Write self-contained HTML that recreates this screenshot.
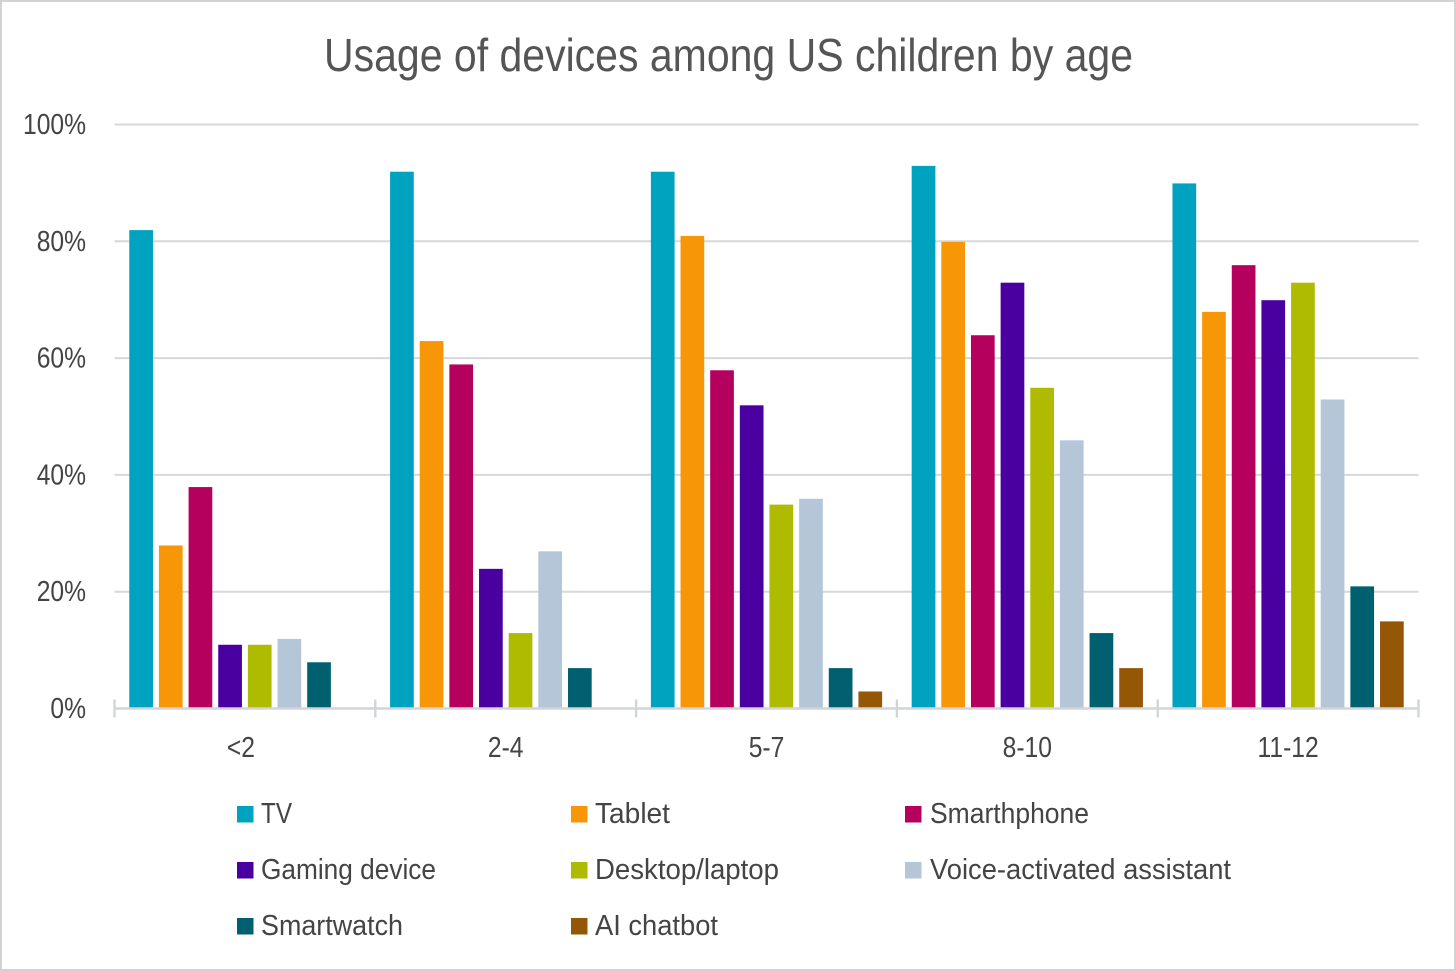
<!DOCTYPE html>
<html lang="en">
<head>
<meta charset="utf-8">
<title>Usage of devices among US children by age</title>
<style>
html,body{margin:0;padding:0;background:#fff;}
svg{display:block;}
text{font-family:"Liberation Sans Narrow","Liberation Sans",sans-serif;}
.title{font-size:46px;fill:#555;}
.label{font-size:29px;fill:#444;}
.grid{stroke:#d6d9dc;stroke-width:2;}
.axis{stroke:#d2d5d8;stroke-width:2.4;}
.s0{fill:#00a3bf;}.s1{fill:#f79707;}.s2{fill:#b5005e;}.s3{fill:#4a00a0;}
.s4{fill:#aebb00;}.s5{fill:#b4c6d8;}.s6{fill:#00606f;}.s7{fill:#935705;}
</style>
</head>
<body>
<svg id="chart" xmlns="http://www.w3.org/2000/svg" width="1456" height="971" viewBox="0 0 1456 971">
  <rect x="1" y="1" width="1454" height="969" fill="#fff" stroke="#d2d2d2" stroke-width="2"/>
  <text class="title" x="324" y="71" textLength="809" lengthAdjust="spacingAndGlyphs">Usage of devices among US children by age</text>
  <g id="grid"></g>
  <g id="bars"></g>
  <g id="axes"></g>
  <g>
    <g><rect class="s0" x="237" y="806" width="16.5" height="16.5"/><text class="label" x="261" y="823" textLength="31" lengthAdjust="spacingAndGlyphs">TV</text></g>
    <g><rect class="s1" x="571" y="806" width="16.5" height="16.5"/><text class="label" x="595" y="823" textLength="75" lengthAdjust="spacingAndGlyphs">Tablet</text></g>
    <g><rect class="s2" x="905" y="806" width="16.5" height="16.5"/><text class="label" x="930" y="823" textLength="159" lengthAdjust="spacingAndGlyphs">Smarthphone</text></g>
    <g><rect class="s3" x="237" y="862" width="16.5" height="16.5"/><text class="label" x="261" y="879" textLength="175" lengthAdjust="spacingAndGlyphs">Gaming device</text></g>
    <g><rect class="s4" x="571" y="862" width="16.5" height="16.5"/><text class="label" x="595" y="879" textLength="184" lengthAdjust="spacingAndGlyphs">Desktop/laptop</text></g>
    <g><rect class="s5" x="905" y="862" width="16.5" height="16.5"/><text class="label" x="930" y="879" textLength="301" lengthAdjust="spacingAndGlyphs">Voice-activated assistant</text></g>
    <g><rect class="s6" x="237" y="918" width="16.5" height="16.5"/><text class="label" x="261" y="935" textLength="142" lengthAdjust="spacingAndGlyphs">Smartwatch</text></g>
    <g><rect class="s7" x="571" y="918" width="16.5" height="16.5"/><text class="label" x="595" y="935" textLength="123" lengthAdjust="spacingAndGlyphs">AI chatbot</text></g>
  </g>
</svg>
<script>
const categories = ['<2', '2-4', '5-7', '8-10', '11-12'];
const tickValues = [0, 20, 40, 60, 80, 100];
const tv = [82, 92, 92, 93, 90];
const tablet = [28, 63, 81, 80, 68];
const smartphone = [38, 59, 58, 64, 76];
const gamingDevice = [11, 24, 52, 73, 70];
const desktopLaptop = [11, 13, 35, 55, 73];
const voiceAssistant = [12, 27, 36, 46, 53];
const smartwatch = [8, 7, 7, 13, 21];
const aiChatbot = [null, null, 3, 7, 15];
const seriesValues = [tv, tablet, smartphone, gamingDevice, desktopLaptop, voiceAssistant, smartwatch, aiChatbot];
const seriesNames = ['tv', 'tablet', 'smartphone', 'gaming-device', 'desktop-laptop', 'voice-assistant', 'smartwatch', 'ai-chatbot'];

const NS = 'http://www.w3.org/2000/svg';
const plot = {left: 114.5, right: 1418.5, top: 124.5, bottom: 708.5};
const groupW = (plot.right - plot.left) / categories.length;
const barW = 23.7;
const barPitch = 29.65;
const barTopNudge = 0.5;
const groupPad = (groupW - (barW * seriesValues.length + (barPitch - barW) * (seriesValues.length - 1))) / 2;
function y(v) { return plot.bottom - (v / 100) * (plot.bottom - plot.top); }
function groupX(i) { return plot.left + i * groupW; }
function make(tag, attrs, parent) {
  const el = document.createElementNS(NS, tag);
  for (const k in attrs) el.setAttribute(k, attrs[k]);
  parent.appendChild(el);
  return el;
}
const gridG = document.getElementById('grid');
const barsG = document.getElementById('bars');
const axesG = document.getElementById('axes');

/* Condense axis labels so they match the reference's narrow face */
const probe = make('text', {class: 'label', x: 0, y: -50}, axesG);
probe.textContent = '100%';
const condense = 63 / probe.getComputedTextLength();
axesG.removeChild(probe);
function fit(el) {
  el.setAttribute('textLength', (el.getComputedTextLength() * condense).toFixed(1));
  el.setAttribute('lengthAdjust', 'spacingAndGlyphs');
}

tickValues.forEach(function (v) {
  if (v > 0) {
    const line = make('line', {class: 'grid', x1: plot.left, x2: plot.right, y1: y(v), y2: y(v)}, gridG);
    
    
  }
  const t = make('text', {class: 'label', x: 86, y: y(v) + 9.5, 'text-anchor': 'end'}, axesG);
  t.textContent = v + '%';
  
  
  fit(t);
});

seriesValues.forEach(function (values, s) {
  values.forEach(function (v, i) {
    if (v === null) return;
    const top = y(v) + barTopNudge;
    const r = make('rect', {class: 's' + s, x: groupX(i) + groupPad + s * barPitch, y: top, width: barW, height: plot.bottom - top}, barsG);
    
    
  });
});

const axisLine = make('line', {class: 'axis', x1: plot.left, x2: plot.right, y1: plot.bottom, y2: plot.bottom}, axesG);


for (let i = 0; i <= categories.length; i++) {
  const tick = make('line', {class: 'axis', x1: groupX(i), x2: groupX(i), y1: plot.bottom - 9, y2: plot.bottom + 9}, axesG);
  
  
}
categories.forEach(function (c, i) {
  const t = make('text', {class: 'label', x: groupX(i) + groupW / 2 - (i === 0 ? 4 : 0), y: 757, 'text-anchor': 'middle'}, axesG);
  t.textContent = c;
  
  
  fit(t);
});
</script>
</body>
</html>
